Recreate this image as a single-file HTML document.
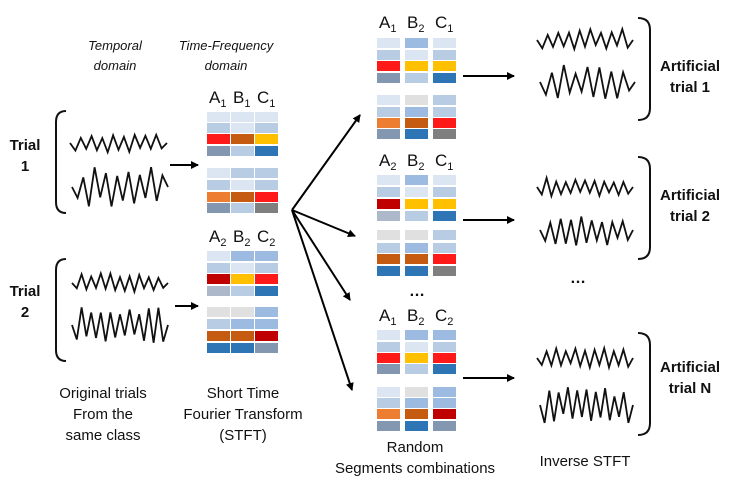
<!DOCTYPE html>
<html><head><meta charset="utf-8">
<style>
html,body{margin:0;padding:0;background:#fff;}
svg{display:block;font-family:"Liberation Sans",Arial,sans-serif;}
</style></head><body>
<svg id="s" width="735" height="483" viewBox="0 0 735 483" xmlns="http://www.w3.org/2000/svg">
<defs><marker id="ah" markerWidth="8" markerHeight="8" refX="7" refY="4" orient="auto" markerUnits="userSpaceOnUse"><path d="M0,0 L8,4 L0,8 Z" fill="#000"/></marker></defs>
<g font-size="13" font-style="italic" text-anchor="middle" fill="#111">
<text x="115" y="50">Temporal</text><text x="115" y="70">domain</text>
<text x="226" y="50">Time-Frequency</text><text x="226" y="70">domain</text>
</g>
<g font-size="15" font-weight="bold" text-anchor="middle" fill="#111">
<text x="25" y="150">Trial</text><text x="25" y="171">1</text>
<text x="25" y="296">Trial</text><text x="25" y="317">2</text>
<text x="690" y="71">Artificial</text><text x="690" y="92">trial 1</text>
<text x="690" y="200">Artificial</text><text x="690" y="221">trial 2</text>
<text x="690" y="372">Artificial</text><text x="690" y="393">trial N</text>
</g>
<g font-size="15" text-anchor="middle" fill="#111">
<text x="103" y="398">Original trials</text><text x="103" y="419">From the</text><text x="103" y="440">same class</text>
<text x="243" y="398">Short Time</text><text x="243" y="419">Fourier Transform</text><text x="243" y="440">(STFT)</text>
<text x="415" y="452">Random</text><text x="415" y="473">Segments combinations</text>
<text x="585" y="466">Inverse STFT</text>
<text x="417" y="296" font-weight="bold" font-size="16">…</text>
<text x="578" y="283" font-weight="bold" font-size="16">…</text>
</g>
<g fill="none" stroke="#111" stroke-width="2">
<path d="M66,111 Q56,111 56,122 L56,202 Q56,213 66,213"/>
<path d="M66,259 Q56,259 56,270 L56,350 Q56,361 66,361"/>
<path d="M638,18 Q650,18 650,30 L650,108 Q650,120 638,120"/>
<path d="M638,157 Q650,157 650,169 L650,247 Q650,259 638,259"/>
<path d="M638,333 Q650,333 650,345 L650,423 Q650,435 638,435"/>
</g>
<g stroke="#000" stroke-width="2" marker-end="url(#ah)">
<line x1="170" y1="165" x2="198" y2="165"/>
<line x1="175" y1="306" x2="198" y2="306"/>
<line x1="463" y1="76" x2="514" y2="76"/>
<line x1="463" y1="220" x2="514" y2="220"/>
<line x1="463" y1="378" x2="514" y2="378"/>
<line x1="292" y1="210" x2="360" y2="115"/>
<line x1="292" y1="210" x2="355" y2="236"/>
<line x1="292" y1="210" x2="350" y2="300"/>
<line x1="292" y1="210" x2="352" y2="390"/>
</g>
<g id="waves" fill="none" stroke="#111" stroke-width="1.8" stroke-linejoin="miter"></g>
<g id="grids"></g>
</svg>
<script>
var ns="http://www.w3.org/2000/svg";
var C={vl:"#dce6f2",l:"#b8cce4",m:"#9dbbe0",r:"#ff1a1a",o:"#c55a11",y:"#ffc000",b:"#2e75b6",g:"#8497b0",or:"#ed7d31",gr:"#7f7f7f",dr:"#c00000",lg:"#e0e0e0",pg:"#adb9ca"};
var G=document.getElementById("grids");
function rect(x,y,w,h,f){var r=document.createElementNS(ns,"rect");r.setAttribute("x",x);r.setAttribute("y",y);r.setAttribute("width",w);r.setAttribute("height",h);r.setAttribute("fill",C[f]);G.appendChild(r);}
function txt(x,y,t,s){var e=document.createElementNS(ns,"text");e.setAttribute("x",x);e.setAttribute("y",y);e.setAttribute("font-size","17");e.setAttribute("fill","#111");e.innerHTML=t+'<tspan font-size="11" dy="4">'+s+'</tspan>';G.appendChild(e);}
function grid(xs,w,ys,cols,lab,ly){
 for(var c=0;c<3;c++){for(var r=0;r<8;r++){rect(xs[c],ys[r],w,10,cols[c][r]);}
 txt(xs[c]+2,ly,lab[c][0],lab[c][1]);}
}
var L=[207,231,255],R=[377,405,433];
grid(L,23,[112,123,134,146,168,180,192,203],[["vl","l","r","g","vl","l","or","g"],["vl","vl","o","l","l","vl","o","l"],["vl","l","y","b","l","l","r","gr"]],[["A","1"],["B","1"],["C","1"]],103);
grid(L,23,[251,263,274,286,307,319,331,343],[["vl","l","dr","pg","lg","l","o","b"],["m","vl","y","l","lg","m","o","b"],["m","l","r","b","m","m","dr","g"]],[["A","2"],["B","2"],["C","2"]],242);
grid(R,23,[38,50,61,73,95,107,118,129],[["vl","l","r","g","vl","l","or","g"],["m","vl","y","l","lg","m","o","b"],["vl","l","y","b","l","l","r","gr"]],[["A","1"],["B","2"],["C","1"]],28);
grid(R,23,[175,187,199,211,230,243,254,266],[["vl","l","dr","pg","lg","l","o","b"],["m","vl","y","l","lg","m","o","b"],["vl","l","y","b","l","l","r","gr"]],[["A","2"],["B","2"],["C","1"]],166);
grid(R,23,[330,342,353,364,387,398,409,421],[["vl","l","r","g","vl","l","or","g"],["m","vl","y","l","lg","m","o","b"],["m","l","r","b","m","m","dr","g"]],[["A","1"],["B","2"],["C","2"]],321);
var W=document.getElementById("waves"),seed=7;
function rnd(){seed=(seed*9301+49297)%233280;return seed/233280;}
function wave(x0,x1,cy,a,n){var p=[],dx=(x1-x0)/n;for(var i=0;i<=n;i++){var s=(i%2?1:-1),v=s*a*(0.45+0.55*rnd());if(i==0||i==n)v=0;p.push((x0+i*dx).toFixed(1)+","+(cy+v).toFixed(1));}
var e=document.createElementNS(ns,"polyline");e.setAttribute("points",p.join(" "));W.appendChild(e);}
wave(70,167,143,10,18);wave(72,168,187,20,17);
wave(72,168,283,10,20);wave(72,168,325,18,20);
wave(537,633,40,11,18);wave(540,635,82,18,16);
wave(537,633,187,10,20);wave(540,633,230,16,18);
wave(537,633,358,10,20);wave(540,633,405,18,20);
</script>
</body></html>
